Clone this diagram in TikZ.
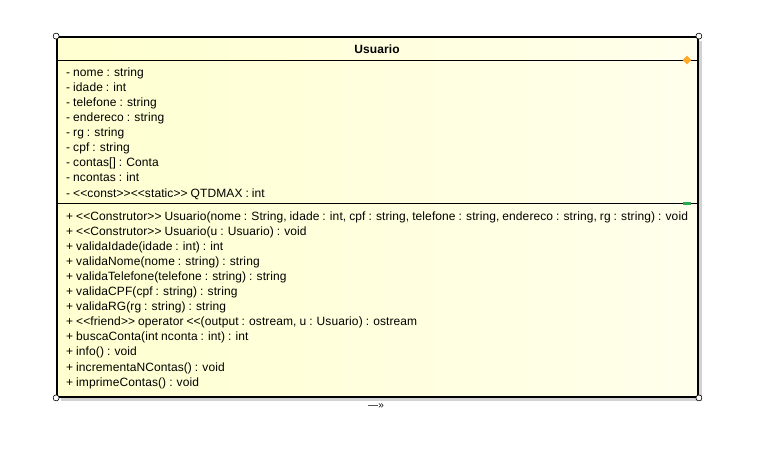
\documentclass[tikz,border=0pt]{standalone}
\usepackage{fontspec}
\setmainfont{Liberation Sans}[Ligatures=TeXOff, LetterSpace=0.8, WordSpace=0.88]
\usetikzlibrary{shadows,shapes.geometric}
\definecolor{boxlight}{RGB}{255,255,236}
\definecolor{boxdark}{RGB}{255,255,208}
\definecolor{handleorange}{RGB}{255,170,40}
\definecolor{handlegreen}{RGB}{40,170,80}
\begin{document}
\begin{tikzpicture}[x=1pt,y=-1pt,
    classbox/.style={draw=black, line width=1.8pt, inner sep=0pt,
      minimum width=641pt, minimum height=360pt,
      left color=boxdark, right color=boxlight,
      drop shadow={shadow xshift=4pt, shadow yshift=-4pt, fill=gray!35, opacity=1}},
    member/.style={anchor=base west, inner sep=0pt, font=\fontsize{12}{14}\selectfont},
    corner/.style={circle, draw=black, fill=white, line width=0.6pt, inner sep=0pt, minimum size=6pt}]
  \useasboundingbox (0,0) rectangle (762,457);
  \node[classbox] (usuario) at (377.5,217) {};
  \node[anchor=base, inner sep=0pt, font=\fontsize{12}{14}\selectfont\bfseries] (title) at (377,53.5) {Usuario};
  \draw[line width=0.8pt] (usuario.west |- 0,60) -- (usuario.east |- 0,60);
  \draw[line width=0.8pt] (usuario.west |- 0,203) -- (usuario.east |- 0,203);
  % attributes
  \begin{scope}[every node/.style={member}]
    \node (nome) at (66,77) {- nome : string};
    \node (idade) at (66,92) {- idade : int};
    \node (telefone) at (66,107) {- telefone : string};
    \node (endereco) at (66,122) {- endereco : string};
    \node (rg) at (66,137) {- rg : string};
    \node (cpf) at (66,152) {- cpf : string};
    \node (contas) at (66,167) {- contas[] : Conta};
    \node (ncontas) at (66,182) {- ncontas : int};
    \node (qtdmax) at (66,197) {- <<const>><<static>> QTDMAX : int};
  \end{scope}
  % methods
  \begin{scope}[every node/.style={member}]
    \node (ctor) at (66,220) {+ <<Construtor>> Usuario(nome : String, idade : int, cpf : string, telefone : string, endereco : string, rg : string) : void};
    \node (ctorcopy) at (66,235.1) {+ <<Construtor>> Usuario(u : Usuario) : void};
    \node (valIdade) at (66,250.2) {+ validaIdade(idade : int) : int};
    \node (valNome) at (66,265.3) {+ validaNome(nome : string) : string};
    \node (valTel) at (66,280.4) {+ validaTelefone(telefone : string) : string};
    \node (valCPF) at (66,295.5) {+ validaCPF(cpf : string) : string};
    \node (valRG) at (66,310.6) {+ validaRG(rg : string) : string};
    \node (opout) at (66,325.7) {+ <<friend>> operator <<(output : ostream, u : Usuario) : ostream};
    \node (busca) at (66,340.8) {+ buscaConta(int nconta : int) : int};
    \node (info) at (66,355.9) {+ info() : void};
    \node (incr) at (66,371) {+ incrementaNContas() : void};
    \node (imprime) at (66,386) {+ imprimeContas() : void};
  \end{scope}
  % handles
  \begin{scope}[every node/.style={corner}]
    \node (nw) at (usuario.north west) {};
    \node (ne) at (usuario.north east) {};
    \node (sw) at (usuario.south west) {};
    \node (se) at (usuario.south east) {};
  \end{scope}
  \node[diamond, fill=handleorange, inner sep=0pt, minimum size=9pt] (attrhandle) at (687,60) {};
  \node[rectangle, fill=handlegreen, inner sep=0pt, minimum width=8pt, minimum height=3pt] (ophandle) at (687,203) {};
  \node[anchor=base, inner sep=0pt, font=\fontsize{10}{12}\selectfont] (more) at (376,408) {—»};
\end{tikzpicture}
\end{document}
